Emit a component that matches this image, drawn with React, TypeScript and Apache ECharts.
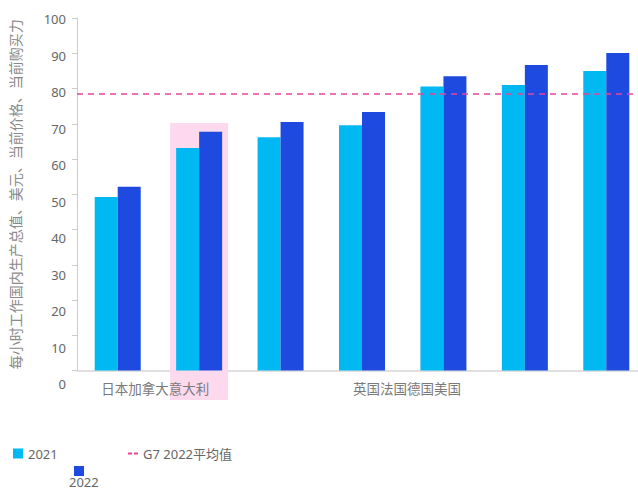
import React, { useEffect, useRef } from "react";
import * as echarts from "echarts";

const categories = ["日本", "加拿大", "意大利", "英国", "法国", "德国", "美国"];
const values2021 = [49.2, 63.1, 66.2, 69.6, 80.6, 81.0, 85.0];
const values2022 = [52.1, 67.7, 70.5, 73.3, 83.5, 86.7, 90.1];
const g7Average2022 = 78.5;
const seriesNames = ["2021", "2022", "G7 2022平均值"];
const xLabelGroups = ["日本加拿大意大利", "英国法国德国美国"];
const xLabelAnchors = ["日本", "英国"];
const highlightCategory = "加拿大";
const yMin = 0;
const yMax = 100;
const yInterval = 10;
const yAxisTitle = "每小时工作国内生产总值、美元、当前价格、当前购买力";

const C2021 = "#00b8f2";
const C2022 = "#1e4ae0";
const CAVG = "#e8449a";
const LATIN = "'Noto Sans', 'Noto Sans CJK SC', sans-serif";
const CJK = "'Noto Sans CJK SC', sans-serif";

export default function App() {
  const ref = useRef<HTMLDivElement>(null);
  useEffect(() => {
    document.body.style.margin = "0";
    if (!ref.current) return;
    const chart = echarts.init(ref.current, null, { renderer: "svg" });
    const option: any = {
      animation: false,
      backgroundColor: "#ffffff",
      grid: [
        { left: 77, top: 18, width: 570, bottom: 118.5, outerBoundsMode: "none", containLabel: false },
        { left: 77, top: 19, width: 570, bottom: 105, outerBoundsMode: "none", containLabel: false },
      ],
      xAxis: [
        {
          type: "category",
          gridIndex: 0,
          data: categories,
          axisLine: { show: true, lineStyle: { color: "#d6d6d6", width: 1.5 } },
          axisTick: { show: false },
          axisLabel: { show: false },
        },
        { type: "value", gridIndex: 1, show: false, min: 0, max: 1 },
      ],
      yAxis: [
        {
          type: "value",
          gridIndex: 0,
          min: yMin,
          max: yMax,
          interval: yInterval,
          axisLine: { show: true, lineStyle: { color: "#cccccc", width: 1 } },
          axisTick: { show: true, length: 5, lineStyle: { color: "#cccccc" } },
          axisLabel: { show: false },
          splitLine: { show: false },
          name: yAxisTitle,
          nameLocation: "middle",
          nameRotate: 90,
          nameGap: 55,
          nameTextStyle: { color: "#8a8a8a", fontSize: 14, fontFamily: CJK },
        },
        {
          type: "value",
          gridIndex: 1,
          min: yMin,
          max: yMax,
          interval: yInterval,
          axisLine: { show: false },
          axisTick: { show: false },
          splitLine: { show: false },
          axisLabel: { show: true, margin: 11, color: "#666666", fontSize: 13, fontFamily: LATIN },
        },
      ],
      legend: [
        {
          data: [{ name: seriesNames[0], icon: "rect" }],
          left: 8,
          top: 442,
          itemWidth: 10,
          itemHeight: 10,
          itemGap: 5,
          textStyle: { color: "#666666", fontSize: 13, fontFamily: LATIN },
        },
        {
          data: [{ name: seriesNames[1], icon: "rect" }],
          left: 69,
          top: 461,
          itemWidth: 10,
          itemHeight: 10,
          formatter: () => "",
          textStyle: { color: "#666666", fontSize: 13, fontFamily: LATIN },
        },
        {
          data: [
            {
              name: seriesNames[2],
              icon: "path://M0,0 L4,0 L4,2 L0,2 Z M6,0 L10,0 L10,2 L6,2 Z",
            },
          ],
          left: 123,
          top: 442,
          itemWidth: 10,
          itemHeight: 2,
          itemGap: 5,
          textStyle: { color: "#666666", fontSize: 13, fontFamily: LATIN },
        },
      ],
      series: [
        {
          name: seriesNames[0],
          type: "bar",
          xAxisIndex: 0,
          yAxisIndex: 0,
          data: values2021,
          barWidth: 23,
          barGap: "0%",
          itemStyle: { color: C2021 },
          z: 3,
        },
        {
          name: seriesNames[1],
          type: "bar",
          xAxisIndex: 0,
          yAxisIndex: 0,
          data: values2022,
          barWidth: 23,
          barGap: "0%",
          itemStyle: { color: C2022 },
          z: 3,
        },
        {
          name: seriesNames[2],
          type: "line",
          xAxisIndex: 0,
          yAxisIndex: 0,
          data: [],
          symbol: "none",
          itemStyle: { color: CAVG },
          lineStyle: { color: CAVG, type: [5, 4], width: 2 },
          markLine: {
            silent: true,
            symbol: "none",
            label: { show: false },
            lineStyle: { color: CAVG, type: [6, 5], width: 1.5 },
            data: [{ yAxis: g7Average2022 }],
          },
          z: 4,
        },
        {
          type: "scatter",
          xAxisIndex: 1,
          yAxisIndex: 1,
          data: [],
        },
      ],
    };
    chart.setOption(option);

    const cx = (name: string) => chart.convertToPixel({ xAxisIndex: 0 }, name) as number;
    const cy = (v: number) => chart.convertToPixel({ yAxisIndex: 0 }, v) as number;
    const baseY = cy(0);
    const hx = cx(highlightCategory);
    const labelOffsets = [-16.5, -9];
    const graphic: any[] = [
      {
        type: "rect",
        z: 1,
        silent: true,
        shape: { x: hx - 29, y: cy(70.2), width: 58, height: baseY + 29.5 - cy(70.2) },
        style: { fill: "#fdd9ee" },
      },
      {
        type: "text",
        z: 10,
        left: 69,
        top: 475,
        style: {
          text: seriesNames[1],
          fill: "#666666",
          fontSize: 13,
          fontFamily: LATIN,
        },
      },
    ];
    xLabelGroups.forEach((t, i) => {
      graphic.push({
        type: "text",
        z: 10,
        x: cx(xLabelAnchors[i]) + labelOffsets[i],
        y: baseY + 17.5,
        style: {
          text: t,
          fill: "#7a7a7a",
          fontSize: 13.5,
          fontFamily: CJK,
          textAlign: "left",
          textVerticalAlign: "middle",
        },
      });
    });
    chart.setOption({ graphic });
    return () => chart.dispose();
  }, []);
  return <div ref={ref} style={{ width: 638, height: 489 }} />;
}
